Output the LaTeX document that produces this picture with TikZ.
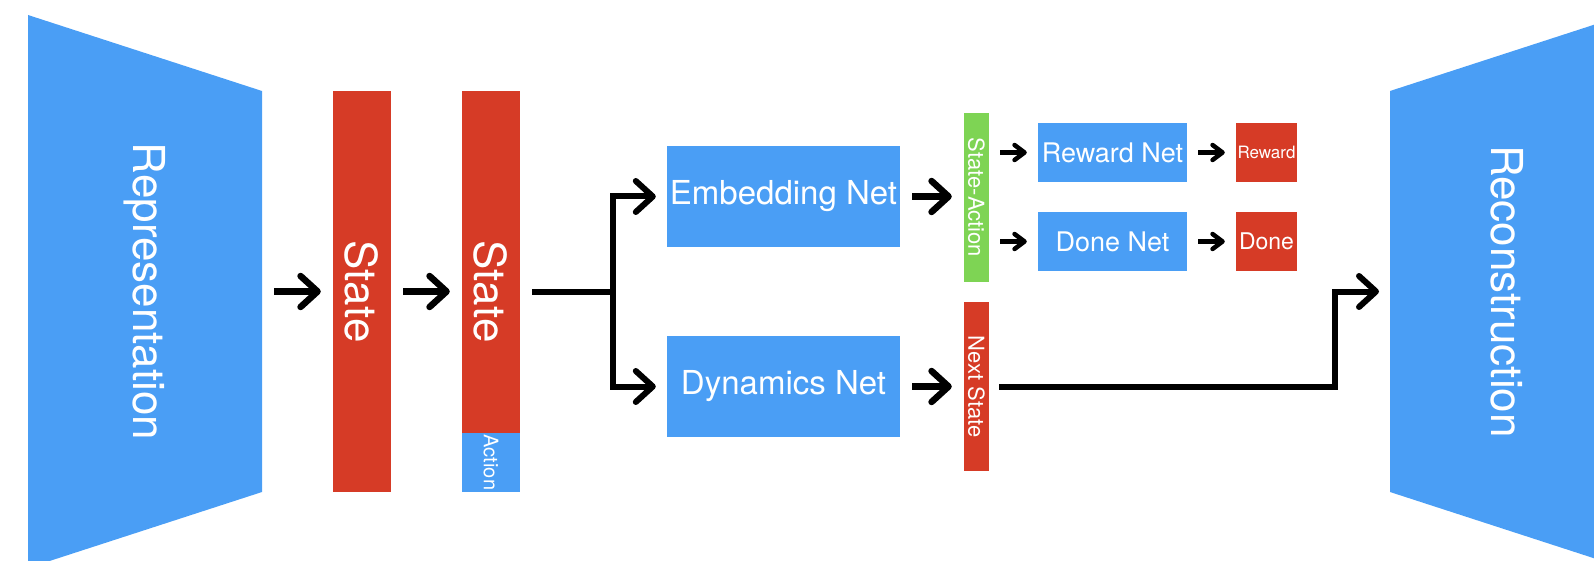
\documentclass[tikz,border=0pt]{standalone}
\usepackage{fontspec}
\setmainfont{TeX Gyre Heros}
\usetikzlibrary{arrows.meta}
\definecolor{netblue}{RGB}{74,158,245}
\definecolor{netred}{RGB}{214,59,38}
\definecolor{netgreen}{RGB}{126,212,84}
\tikzset{
  block/.style={inner sep=0pt, text=white},
  bluebox/.style={block, fill=netblue},
  redbox/.style={block, fill=netred},
  greenbox/.style={block, fill=netgreen},
  line/.style={line width=6pt},
  arr/.style={line width=6.5pt, -{Straight Barb[length=17pt,width=31pt,round]}, shorten <=12pt, shorten >=12pt},
  branch/.style={line width=6pt, -{Straight Barb[length=17pt,width=31pt,round]}, shorten >=11pt},
  smallarr/.style={line width=4.5pt, -{Straight Barb[length=10pt,width=15pt,round]}, shorten <=11pt, shorten >=11pt},
}

\begin{document}
\begin{tikzpicture}[x=1pt,y=-1pt]
\useasboundingbox (0,0) rectangle (1594,561);
\clip (0,0) rectangle (1594,561);
% Encoder
\fill[netblue] (28,15) -- (262,91) -- (262,492) -- (28,568) -- cycle;
\node[text=white, font=\fontsize{44}{44}\selectfont] (repr) at (145,291.5) {\rotatebox{-90}{Representation}};
\coordinate (reprR) at (262,291.5);
% State columns
\node[redbox, minimum width=58pt, minimum height=400pt, font=\fontsize{44}{44}\selectfont] (state1) at (362,291.5) {\rotatebox{-90}{State}};
\node[redbox, minimum width=58pt, minimum height=401pt, font=\fontsize{44}{44}\selectfont] (state2) at (491,291.5) {\rotatebox{-90}{State}};
\node[bluebox, minimum width=58pt, minimum height=59pt, anchor=south, font=\fontsize{20}{20}\selectfont] (action) at (state2.south) {\rotatebox{-90}{Action}};
\draw[arr] (reprR) -- (state1);
\draw[arr] (state1) -- (state2);
% Nets
\node[bluebox, minimum width=233pt, minimum height=101pt, font=\fontsize{33}{33}\selectfont] (emb) at (783.5,196.5) {Embedding Net};
\node[bluebox, minimum width=233pt, minimum height=101pt, font=\fontsize{33}{33}\selectfont] (dyn) at (783.5,386.5) {Dynamics Net};
\coordinate (split) at (613,291.5);
\draw[line] ([xshift=12pt]state2.east) -- (split);
\draw[branch] (split) |- (emb);
\draw[branch] (split) |- (dyn);
% Outputs of the nets
\node[greenbox, minimum width=25pt, minimum height=169pt, font=\fontsize{22}{22}\selectfont] (sa) at (976.5,197.5) {\rotatebox{-90}{State-Action}};
\node[redbox, minimum width=25pt, minimum height=169pt, font=\fontsize{22}{22}\selectfont] (ns) at (976.5,386.5) {\rotatebox{-90}{Next State}};
\draw[arr] (emb.east) -- (sa.west |- emb.east);
\draw[arr] (dyn) -- (ns);
% Reward and done heads
\node[bluebox, minimum width=149pt, minimum height=59pt, font=\fontsize{27}{27}\selectfont] (rnet) at (1112.5,152.5) {Reward Net};
\node[bluebox, minimum width=149pt, minimum height=59pt, font=\fontsize{27}{27}\selectfont] (dnet) at (1112.5,241.5) {Done Net};
\node[redbox, minimum width=61pt, minimum height=59pt, font=\fontsize{17}{17}\selectfont] (rew) at (1266.5,152.5) {Reward};
\node[redbox, minimum width=61pt, minimum height=59pt, font=\fontsize{23}{23}\selectfont] (done) at (1266.5,241.5) {Done};
\draw[smallarr] (sa.east |- rnet) -- (rnet);
\draw[smallarr] (sa.east |- dnet) -- (dnet);
\draw[smallarr] (rnet) -- (rew);
\draw[smallarr] (dnet) -- (done);
% Decoder
\fill[netblue] (1390,91) -- (1624,15) -- (1624,568) -- (1390,492) -- cycle;
\node[text=white, font=\fontsize{44}{44}\selectfont] (recon) at (1507,291.5) {\rotatebox{-90}{Reconstruction}};
\coordinate (reconL) at (1390,291.5);
\coordinate (turn) at (1335,291.5);
\draw[branch, shorten <=10pt] (ns) -| (turn) -- (reconL);
\end{tikzpicture}
\end{document}
